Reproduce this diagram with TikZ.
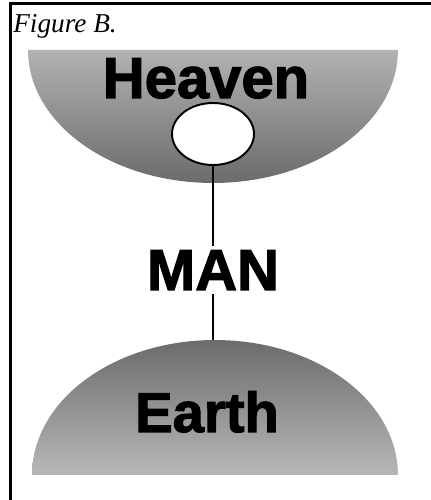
\documentclass[tikz,border=0pt]{standalone}
\usepackage{fontspec}
\setmainfont{Liberation Serif}
\newfontfamily\heavyfont{Liberation Sans Bold}[FakeBold=2]
\usepackage{tikz}
\usetikzlibrary{shapes,positioning}

\begin{document}
\begin{tikzpicture}[
        x=0.02cm, y=0.02cm,
        word/.style={font=\heavyfont\fontsize{33}{36}\selectfont,
                     anchor=base, inner sep=0pt},
        hole/.style={draw, ellipse, fill=white, line width=1.1pt,
                     minimum width=1.64cm, minimum height=1.24cm, inner sep=0pt},
        link/.style={line width=1.1pt}
    ]
        \useasboundingbox (0,0) rectangle (431,500);

        % frame and caption
        \draw[line width=1.7pt] (431,496) -- (10.5,496) -- (10.5,0);
        \node[anchor=base west, inner sep=0pt, font=\itshape\fontsize{15.5}{18}\selectfont]
            (caption) at (13,467) {Figure B.};

        % the two domes
        \path[top color=black!30, bottom color=black!58]
            (28,450) arc[start angle=180, end angle=360, x radius=3.7cm, y radius=2.66cm] -- cycle;
        \path[top color=black!58, bottom color=black!28]
            (32,25) arc[start angle=180, end angle=0, x radius=3.66cm, y radius=2.7cm] -- cycle;
        \coordinate (earthtop) at (213,160);

        \node[word] (heaven) at (206,402) {Heaven};
        \node[hole] (gate) at (213,366) {};
        \node[word, inner sep=2pt] (man) at (213,210) {MAN};
        \node[word, font=\heavyfont\fontsize{32}{35}\selectfont] (earth) at (207,68) {Earth};

        \draw[link] (gate) -- (man);
        \draw[link] (man) -- (earthtop);
    \end{tikzpicture}
\end{document}
